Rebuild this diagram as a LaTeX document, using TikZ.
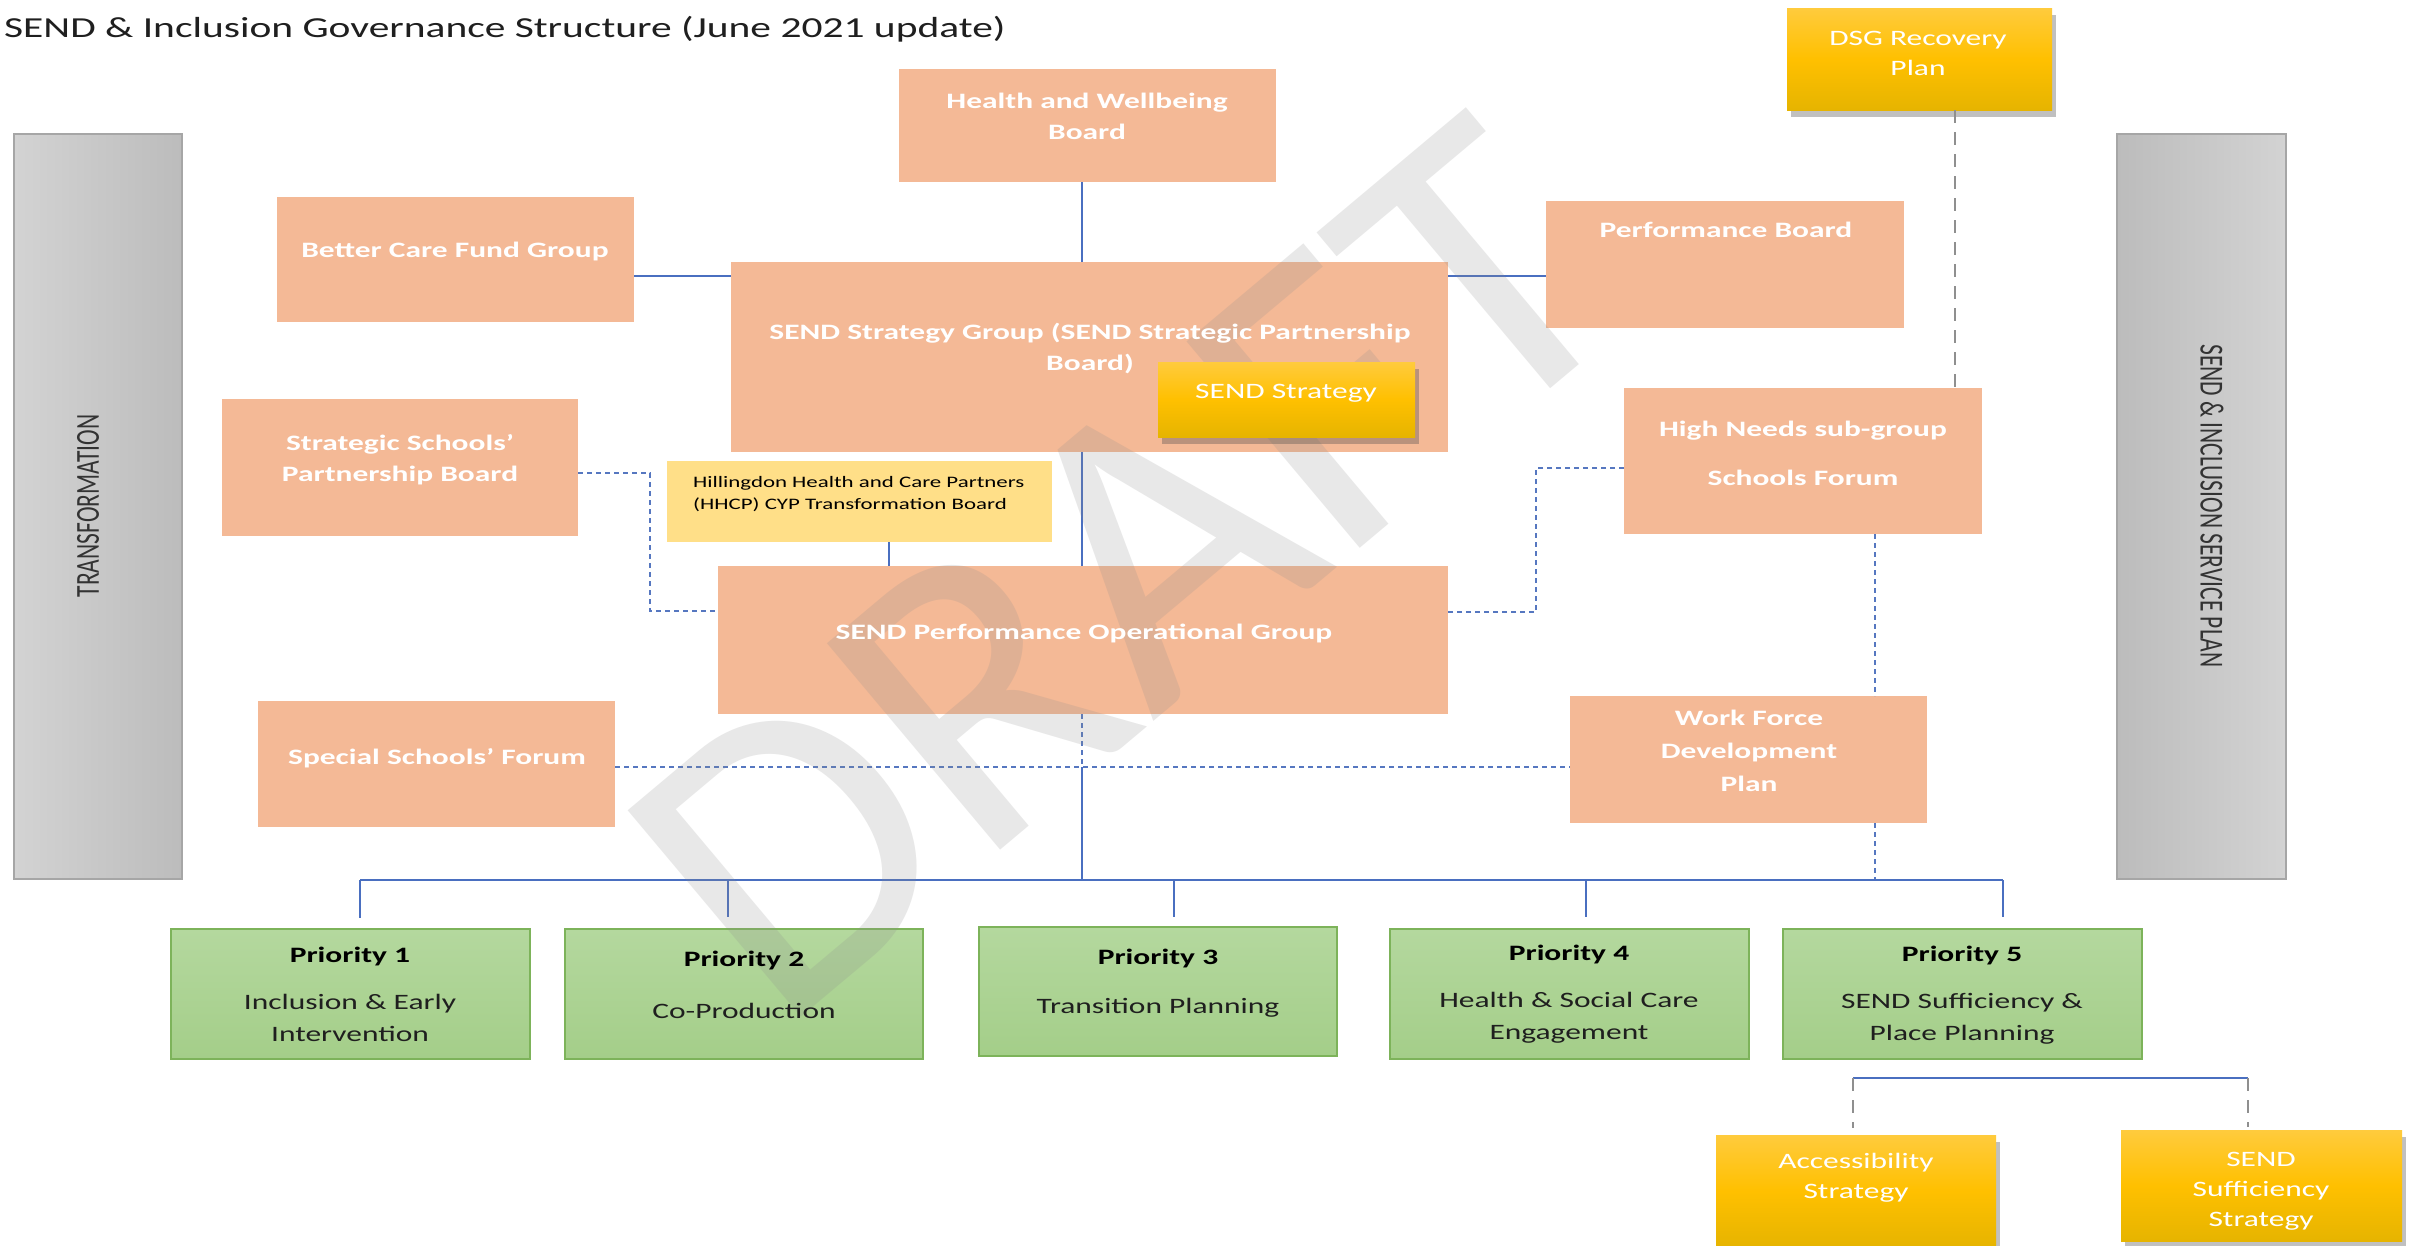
\documentclass[tikz,border=0pt]{standalone}
\usepackage{fontspec}
\setmainfont[FakeStretch=1.43]{Carlito}
\newfontfamily\plainfont{Carlito}
\usetikzlibrary{shadows}
\definecolor{obox}{HTML}{F4B996}
\definecolor{hhcpc}{HTML}{FFDF88}
\definecolor{goldt}{HTML}{FFCB3D}
\definecolor{goldm}{HTML}{FFC000}
\definecolor{goldb}{HTML}{E6B400}
\definecolor{greent}{HTML}{B4D89E}
\definecolor{greenb}{HTML}{A4CE89}
\definecolor{greend}{HTML}{7DB35A}
\definecolor{lblue}{HTML}{4A6FC0}
\definecolor{dblue}{HTML}{5677C0}
\definecolor{dgray}{HTML}{8F8F8F}
\definecolor{barl}{HTML}{D3D3D3}
\definecolor{bard}{HTML}{BCBCBC}
\definecolor{bare}{HTML}{A6A6A6}
\begin{document}
\begin{tikzpicture}[x=1pt,y=-1pt,
  box/.style={inner sep=0pt, outer sep=0pt, anchor=north west},
  orangebox/.style={box, fill=obox},
  greenbox/.style={box, top color=greent, bottom color=greenb, draw=greend, line width=1.5pt},
  goldbox/.style={box, top color=goldt, bottom color=goldb, middle color=goldm,
     drop shadow={shadow xshift=4pt, shadow yshift=-7pt, opacity=0.35, fill=black!70}},
  wtxt/.style={inner sep=0pt, text=white, align=center, font=\fontsize{22}{31}\selectfont\bfseries},
  gtxt/.style={inner sep=0pt, text=white, align=center, font=\fontsize{22}{30}\selectfont},
  ptitle/.style={inner sep=0pt, text=black, align=center, font=\fontsize{22}{31}\selectfont\bfseries},
  pdesc/.style={inner sep=0pt, text=black!88, align=center, font=\fontsize{22}{32}\selectfont},
  bl/.style={draw=lblue, line width=2pt},
  bld/.style={draw=dblue, line width=2pt, dash pattern=on 5pt off 4pt},
  gd/.style={draw=dgray, line width=2.5pt, dash pattern=on 13pt off 9pt}
]
\useasboundingbox (0,0) rectangle (2417,1245);
\fill[white] (0,0) rectangle (2417,1245);

% helper coordinates
\coordinate (y276) at (0,276);
\coordinate (y473) at (0,473);
\coordinate (y611) at (0,611);
\coordinate (y468) at (0,468);
\coordinate (y612) at (0,612);
\coordinate (y767) at (0,767);
\coordinate (y880) at (0,880);
\coordinate (y1078) at (0,1078);
\coordinate (v1082) at (1082,0);
\coordinate (v889) at (889,0);
\coordinate (v650) at (650,0);
\coordinate (v1536) at (1536,0);
\coordinate (v1955) at (1955,0);
\coordinate (v1875) at (1875,0);
\coordinate (v1853) at (1853,0);
\coordinate (v2248) at (2248,0);
\coordinate (busL) at (360,880);
\coordinate (busR) at (2003,880);
\coordinate (bus2) at (728,880);
\coordinate (bus3) at (1174,880);
\coordinate (bus4) at (1586,880);

% title
\node[anchor=base west, inner sep=0pt, text=black!88, font=\fontsize{29}{34}\selectfont] (title) at (4,37) {SEND \& Inclusion Governance Structure (June 2021 update)};

% side bars
\node[box, minimum width=168pt, minimum height=745pt, left color=barl, right color=bard, draw=bare, line width=1.5pt] (trans) at (14,134) {};
\node[box, minimum width=169pt, minimum height=745pt, left color=bard, right color=barl, draw=bare, line width=1.5pt] (plan) at (2117,134) {};
\node[rotate=90, inner sep=0pt, text=black!80] (ttrans) at (88,506) {\scalebox{1}[1.43]{\plainfont\fontsize{23.5}{28}\selectfont TRANSFORMATION}};
\node[rotate=-90, inner sep=0pt, text=black!80] (tplan) at (2212,506) {\scalebox{1}[1.43]{\plainfont\fontsize{23.5}{28}\selectfont SEND \& INCLUSION SERVICE PLAN}};

% orange boxes
\node[orangebox, minimum width=377pt, minimum height=113pt] (health) at (899,69) {};
\node[orangebox, minimum width=357pt, minimum height=125pt] (better) at (277,197) {};
\node[orangebox, minimum width=717pt, minimum height=190pt] (ssg) at (731,262) {};
\node[orangebox, minimum width=358pt, minimum height=127pt] (perf) at (1546,201) {};
\node[orangebox, minimum width=356pt, minimum height=137pt] (sspb) at (222,399) {};
\node[orangebox, minimum width=358pt, minimum height=146pt] (highneeds) at (1624,388) {};
\node[orangebox, minimum width=730pt, minimum height=148pt] (pog) at (718,566) {};
\node[orangebox, minimum width=357pt, minimum height=126pt] (special) at (258,701) {};
\node[orangebox, minimum width=357pt, minimum height=127pt] (wfd) at (1570,696) {};
\node[box, fill=hhcpc, minimum width=385pt, minimum height=81pt] (hhcp) at (667,461) {};

% green boxes
\node[greenbox, minimum width=359pt, minimum height=130pt] (p1) at (171,929) {};
\node[greenbox, minimum width=358pt, minimum height=130pt] (p2) at (565,929) {};
\node[greenbox, minimum width=358pt, minimum height=129pt] (p3) at (979,927) {};
\node[greenbox, minimum width=359pt, minimum height=130pt] (p4) at (1390,929) {};
\node[greenbox, minimum width=359pt, minimum height=130pt] (p5) at (1783,929) {};

% connectors
\draw[bl] (health.south -| v1082) -- (ssg.north -| v1082);
\draw[bl] (better.east |- y276) -- (ssg.west |- y276);
\draw[bl] (ssg.east |- y276) -- (perf.west |- y276);
\draw[bl] (ssg.south -| v1082) -- (pog.north -| v1082);
\draw[bl] (hhcp.south -| v889) -- (pog.north -| v889);
\draw[bld] (sspb.east |- y473) -| (v650 |- y611) -- (pog.west |- y611);
\draw[bld] (highneeds.west |- y468) -| (v1536 |- y612) -- (pog.east |- y612);
\draw[bld] (highneeds.south -| v1875) -- (wfd.north -| v1875);
\draw[bld] (wfd.south -| v1875) -- (v1875 |- y880);
\draw[bld] (special.east |- y767) -- (wfd.west |- y767);
\draw[bld] (pog.south -| v1082) -- (v1082 |- y767);
\draw[bl] (v1082 |- y767) -- (v1082 |- y880);
\draw[bl] (busL) -- (busR);
\draw[bl, shorten >=11pt] (busL) -- (p1.north -| busL);
\draw[bl, shorten >=12pt] (bus2) -- (p2.north -| bus2);
\draw[bl, shorten >=10pt] (bus3) -- (p3.north -| bus3);
\draw[bl, shorten >=12pt] (bus4) -- (p4.north -| bus4);
\draw[bl, shorten >=12pt] (busR) -- (p5.north -| busR);

% watermark
\node[rotate=40, inner sep=0pt, text=black!45, opacity=0.2, font=\plainfont\fontsize{420}{420}\selectfont] (wm) at (1125,570) {DRAFT};

% gold boxes
\node[goldbox, minimum width=265pt, minimum height=102pt] (dsg) at (1787,8) {};
\node[goldbox, minimum width=257pt, minimum height=75pt] (sstrat) at (1158,362) {};
\node[goldbox, minimum width=280pt, minimum height=112pt] (access) at (1716,1135) {};
\node[goldbox, minimum width=281pt, minimum height=111pt] (suff) at (2121,1130) {};

\draw[gd] (dsg.south -| v1955) -- (highneeds.north -| v1955);
\draw[bl] (v1853 |- y1078) -- (v2248 |- y1078);
\draw[gd, shorten >=7pt] (v1853 |- y1078) -- (access.north -| v1853);
\draw[gd, shorten >=3pt] (v2248 |- y1078) -- (suff.north -| v2248);

% texts
\node[wtxt] (thealth) at (1087,116) {Health and Wellbeing\\Board};
\node[wtxt] (tbetter) at (455,252) {Better Care Fund Group};
\node[wtxt] (tssg1) at (1090,333) {SEND Strategy Group (SEND Strategic Partnership};
\node[wtxt] (tssg2) at (1090,364) {Board)};
\node[wtxt] (tperf) at (1726,230) {Performance Board};
\node[wtxt] (tsspb) at (400,460) {Strategic Schools’\\Partnership Board};
\node[wtxt] (thn1) at (1803,431) {High Needs sub-group};
\node[wtxt] (thn2) at (1803,478) {Schools Forum};
\node[wtxt] (tpog) at (1084,633) {SEND Performance Operational Group};
\node[wtxt] (tspecial) at (437,758) {Special Schools’ Forum};
\node[wtxt, font=\fontsize{22}{33}\selectfont\bfseries] (twfd) at (1749,751) {Work Force\\Development\\Plan};
\node[anchor=west, inner sep=0pt, align=left, text=black, font=\fontsize{16}{22}\selectfont] (thhcp) at (693,494) {Hillingdon Health and Care Partners\\(HHCP) CYP Transformation Board};

\node[gtxt] (tdsg) at (1918,53) {DSG Recovery\\Plan};
\node[gtxt] (tsstrat) at (1286,393) {SEND Strategy};
\node[gtxt] (taccess) at (1856,1178) {Accessibility\\Strategy};
\node[gtxt] (tsuff) at (2261,1191) {SEND\\Sufficiency\\Strategy};

\node[ptitle] (tp1) at (350,956) {Priority 1};
\node[pdesc] (dp1) at (350,1018) {Inclusion \& Early\\Intervention};
\node[ptitle] (tp2) at (744,960) {Priority 2};
\node[pdesc] (dp2) at (744,1011) {Co-Production};
\node[ptitle] (tp3) at (1158,958) {Priority 3};
\node[pdesc] (dp3) at (1158,1008) {Transition Planning};
\node[ptitle] (tp4) at (1569,954) {Priority 4};
\node[pdesc] (dp4) at (1569,1018) {Health \& Social Care\\Engagement};
\node[ptitle] (tp5) at (1962,955) {Priority 5};
\node[pdesc] (dp5) at (1962,1019) {SEND Sufficiency \&\\Place Planning};
\end{tikzpicture}
\end{document}
